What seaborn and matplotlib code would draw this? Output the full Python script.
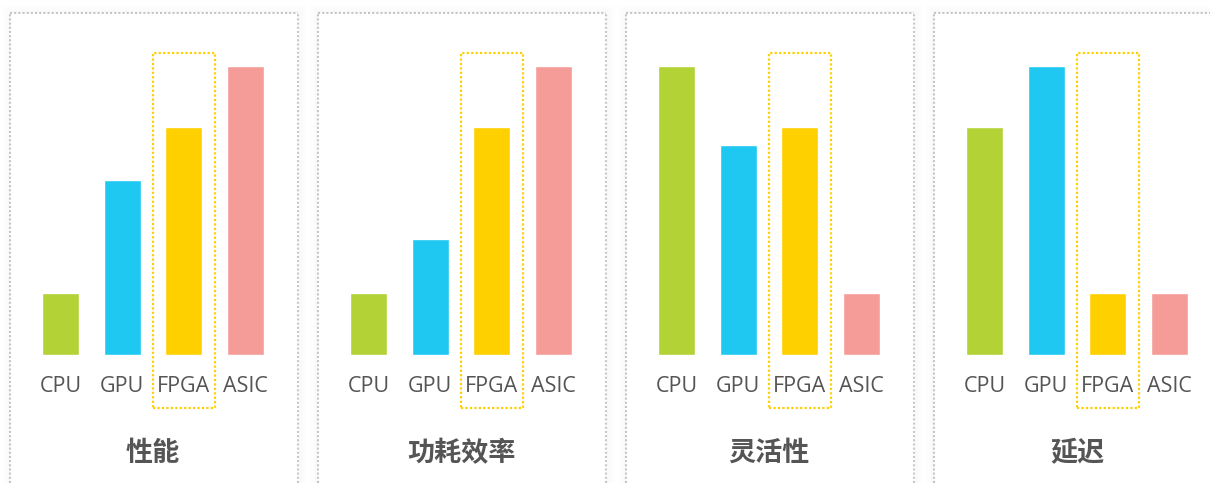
import numpy as np
import matplotlib
matplotlib.use("Agg")
import matplotlib.pyplot as plt
import seaborn as sns
from matplotlib.patches import Rectangle

# chips compared in every panel
chips = ["CPU", "GPU", "FPGA", "ASIC"]
chip_colors = ["#b2d235", "#1fc8f0", "#ffd000", "#f59c99"]

# panel titles and relative scores (tallest bar = 100)
titles = ["性能", "功耗效率", "灵活性", "延迟"]
perf_scores = [21.5, 60.5, 79, 100]
power_scores = [21.5, 40, 79, 100]
flex_scores = [100, 72.5, 79, 21.5]
latency_scores = [79, 100, 21.5, 21.5]
all_scores = [perf_scores, power_scores, flex_scores, latency_scores]

sns.set_style("white")
plt.rcParams["font.family"] = ["Open Sans", "Noto Sans CJK SC", "DejaVu Sans"]

W, H = 1210, 483
fig = plt.figure(figsize=(W / 100, H / 100), dpi=100)

panel_w = 288
panel_top = 13
for k in range(4):
    left = 10 + k * 308

    # soft shadow round the card
    for g in range(1, 9):
        fig.patches.append(Rectangle(((left - g) / W, 0), (panel_w + 2 * g) / W,
                                     (H - panel_top + g) / H, transform=fig.transFigure,
                                     fill=False, edgecolor="#000000", linewidth=0.75,
                                     alpha=0.012 * (9 - g) / 4, zorder=0))

    ax = fig.add_axes([left / W, 0, panel_w / W, (H - panel_top) / H])
    sns.barplot(x=chips, y=all_scores[k], hue=chips, palette=chip_colors,
                width=0.6, legend=False, ax=ax, saturation=1)
    ax.set_xlim(-0.818, 3.85)
    ax.set_ylim(-44.3, 118.3)
    ax.set_xticks([])
    ax.set_yticks([])
    ax.set_xlabel("")
    ax.set_ylabel("")
    for side in ["left", "top", "right"]:
        sp = ax.spines[side]
        sp.set_visible(True)
        sp.set_color("#c8c8c8")
        sp.set_linestyle((0, (1, 1)))
        sp.set_linewidth(1.5)
        sp.set_capstyle("butt")
    ax.spines["bottom"].set_visible(False)

    for i, name in enumerate(chips):
        ax.text(i, -11.0, name, ha="center", va="center", fontsize=15.5,
                color="#555555")
    ax.text(1.5, -34.3, titles[k], ha="center", va="center", fontsize=19.5,
            fontweight="bold", color="#555555")

    # FPGA highlight box
    rect = Rectangle((1.5, -18.3), 1.0, 122.8, fill=False,
                     edgecolor="#ffd000", linestyle=(0, (1, 1)),
                     linewidth=1.6, clip_on=False)
    rect.set_capstyle("butt")
    ax.add_patch(rect)

fig.savefig("out.png", dpi=100, facecolor="w")
